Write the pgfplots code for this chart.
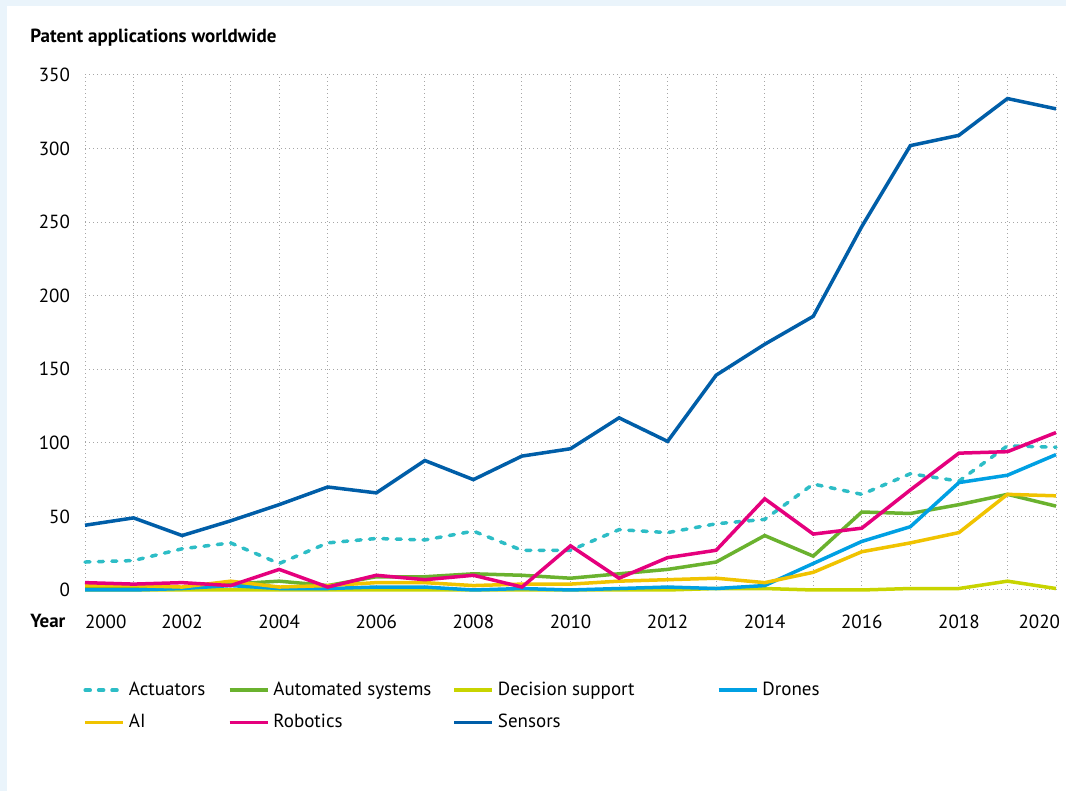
\documentclass[border=0pt]{standalone}
\usepackage{pgfplots}
\pgfplotsset{compat=1.18}
\usepackage{pgfplotstable}
\usepackage{fontspec}
\setmainfont{PT Sans}

\definecolor{bgblue}{HTML}{EAF4FB}
\definecolor{cAct}{HTML}{2DBDC6}
\definecolor{cAuto}{HTML}{6AB22E}
\definecolor{cDec}{HTML}{C8D400}
\definecolor{cDro}{HTML}{00A0E3}
\definecolor{cAI}{HTML}{F0C300}
\definecolor{cRob}{HTML}{E5007D}
\definecolor{cSen}{HTML}{005EA8}

\newcommand\chartfont{\fontsize{9.5}{11}\selectfont}

\pgfplotstableread{
year act auto dec dro ai rob sen
2000 19 2 0 0 3 5 44
2001 20 2 0 0 3 4 49
2002 28 1 0 1 2 5 37
2003 32 4 0 3 6 3 47
2004 18 6 0 1 2 14 58
2005 32 3 0 1 3 2 70
2006 35 9 0 2 5 10 66
2007 34 9 0 2 5 7 88
2008 40 11 0 0 3 10 75
2009 27 10 0 1 4 2 91
2010 27 8 0 0 4 30 96
2011 41 11 0 1 6 8 117
2012 39 14 0 2 7 22 101
2013 45 19 1 1 8 27 146
2014 48 37 1 3 5 62 167
2015 72 23 0 18 12 38 186
2016 65 53 0 33 26 42 247
2017 79 52 1 43 32 68 302
2018 74 58 1 73 39 93 309
2019 98 65 6 78 65 94 334
2020 97 57 1 92 64 107 327
}\patents

\begin{document}
\begin{tikzpicture}
% panel background
\fill[bgblue] (0,0) rectangle (533pt,395.5pt);
\fill[white] (3.5pt,0) rectangle (533pt,392.5pt);

\node[anchor=west, font=\chartfont\bfseries, inner sep=0pt] at (15pt,376.5pt) {Patent applications worldwide};
\node[anchor=west, font=\chartfont\bfseries, inner sep=0pt] at (15pt,85pt) {Year};

\begin{axis}[
    at={(42.5pt,100.5pt)}, anchor=south west,
    width=485.5pt, height=257.5pt, scale only axis,
    xmin=2000, xmax=2020, ymin=0, ymax=350,
    clip=false,
    axis line style={draw=none},
    tick style={draw=none},
    xtick={2000,2002,...,2018},
    xticklabels={\rlap{2000},2002,2004,2006,2008,2010,2012,2014,2016,2018},
    minor xtick={2001,2003,...,2019},
    extra x ticks={2020},
    extra x tick labels={\llap{2020}},
    extra x tick style={grid=major, xticklabel style={xshift=2pt}},
    ytick={0,50,...,350},
    grid=both,
    major grid style={gray!70, line width=0.5pt, dash pattern=on 0.5pt off 1.5pt},
    minor grid style={gray!70, line width=0.5pt, dash pattern=on 0.5pt off 1.5pt},
    /pgf/number format/assume math mode=true,
    x tick label style={yshift=-9pt},
    y tick label style={xshift=-4pt},
    tick label style={font=\chartfont},
    legend columns=4,
    legend cell align=left,
    legend style={at={(axis description cs:-0.002,-0.17)}, anchor=north west,
        draw=none, fill=none, inner sep=0pt, font=\chartfont, row sep=4pt},
    legend image code/.code={\draw[#1] (0pt,0pt) -- (19pt,0pt);},
    every axis plot/.append style={line width=1.75pt},
]
\addplot[cAct, line cap=round, dash pattern=on 2.5pt off 4.2pt] table[x=year, y=act] {\patents};
\addlegendentry{\makebox[47.5pt][l]{Actuators}}
\addplot[cAuto] table[x=year, y=auto] {\patents};
\addlegendentry{\makebox[87.5pt][l]{Automated systems}}
\addplot[cDec] table[x=year, y=dec] {\patents};
\addlegendentry{\makebox[107.5pt][l]{Decision support}}
\addplot[cDro] table[x=year, y=dro] {\patents};
\addlegendentry{Drones}
\addplot[cAI] table[x=year, y=ai] {\patents};
\addlegendentry{AI}
\addplot[cRob] table[x=year, y=rob] {\patents};
\addlegendentry{Robotics}
\addplot[cSen] table[x=year, y=sen] {\patents};
\addlegendentry{Sensors}
\end{axis}
\pgfresetboundingbox
\path (0,0) rectangle (533pt,395.5pt);
\end{tikzpicture}
\end{document}
